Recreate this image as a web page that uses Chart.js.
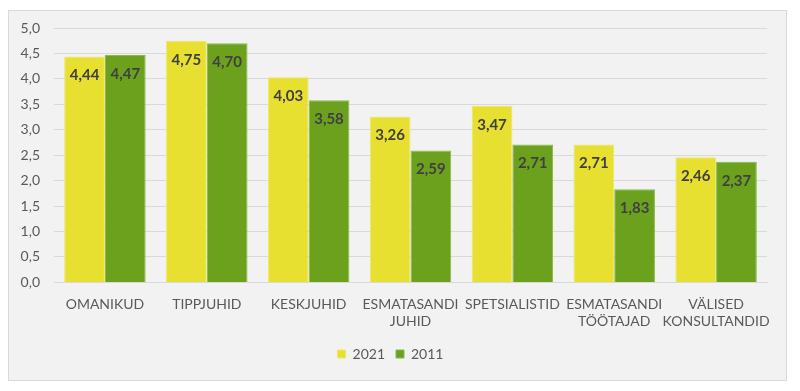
<!DOCTYPE html>
<html>
<head>
<meta charset="utf-8">
<script src="https://cdn.jsdelivr.net/npm/chart.js@4"></script>
<style>
  html, body { margin: 0; padding: 0; background: #fff; }
  #wrap { width: 800px; height: 391px; }
</style>
</head>
<body>
<div id="wrap"><canvas id="chart" width="800" height="391"></canvas></div>
<script>
const categories = [
    'OMANIKUD',
    'TIPPJUHID',
    'KESKJUHID',
    ['ESMATASANDI', 'JUHID'],
    'SPETSIALISTID',
    ['ESMATASANDI', 'TÖÖTAJAD'],
    ['VÄLISED', 'KONSULTANDID']
];
const values2021 = [4.44, 4.75, 4.03, 3.26, 3.47, 2.71, 2.46];
const values2011 = [4.47, 4.70, 3.58, 2.59, 2.71, 1.83, 2.37];

const fontFamily = 'Lato, "Open Sans", sans-serif';

// taust: valge leht ja hall raamiga kast
const backgroundPlugin = {
    id: 'frameBg',
    beforeDraw(chart) {
        const ctx = chart.ctx;
        ctx.save();
        ctx.fillStyle = '#ffffff';
        ctx.fillRect(0, 0, chart.width, chart.height);
        ctx.fillStyle = '#f2f2f2';
        ctx.fillRect(8, 10, 778, 370);
        ctx.strokeStyle = '#d9d9d9';
        ctx.lineWidth = 1;
        ctx.strokeRect(8.5, 10.5, 778, 370);
        ctx.restore();
    }
};

// väärtused tulpade sisse, ülaossa
const valueLabels = {
    id: 'valueLabels',
    afterDatasetsDraw(chart) {
        const ctx = chart.ctx;
        ctx.save();
        ctx.font = 'bold 15px ' + fontFamily;
        ctx.fillStyle = '#404040';
        ctx.textAlign = 'center';
        ctx.textBaseline = 'middle';
        chart.data.datasets.forEach((ds, i) => {
            chart.getDatasetMeta(i).data.forEach((bar, j) => {
                const txt = ds.data[j].toFixed(2).replace('.', ',');
                ctx.fillText(txt, bar.x, bar.y + 19);
            });
        });
        ctx.restore();
    }
};

new Chart(document.getElementById('chart').getContext('2d'), {
    type: 'bar',
    data: {
        labels: categories,
        datasets: [
            {
                label: '2021',
                data: values2021,
                backgroundColor: '#e8e030',
                borderColor: '#ece86a',
                borderWidth: 1,
                categoryPercentage: 0.8,
                barPercentage: 1.0
            },
            {
                label: '2011',
                data: values2011,
                backgroundColor: '#6ca11e',
                borderColor: '#88b848',
                borderWidth: 1,
                categoryPercentage: 0.8,
                barPercentage: 1.0
            }
        ]
    },
    options: {
        responsive: false,
        animation: false,
        layout: { padding: { left: 14, right: 33, top: 28, bottom: 20 } },
        plugins: {
            legend: {
                position: 'bottom',
                labels: {
                    boxWidth: 8,
                    boxHeight: 8,
                    padding: 11,
                    color: '#595959',
                    font: { family: fontFamily, size: 14 }
                }
            },
            tooltip: { enabled: false }
        },
        scales: {
            x: {
                grid: { display: false },
                border: { color: '#d9d9d9' },
                ticks: {
                    color: '#595959',
                    font: { family: fontFamily, size: 14 },
                    maxRotation: 0,
                    autoSkip: false,
                    padding: 6
                }
            },
            y: {
                min: 0,
                max: 5,
                grid: { color: '#d9d9d9', lineWidth: 1, drawTicks: false },
                border: { display: false },
                afterFit(scale) { scale.width = 40; },
                ticks: {
                    stepSize: 0.5,
                    padding: 14,
                    color: '#595959',
                    font: { family: fontFamily, size: 14 },
                    callback: v => v.toFixed(1).replace('.', ',')
                }
            }
        }
    },
    plugins: [backgroundPlugin, valueLabels]
});
</script>
</body>
</html>
